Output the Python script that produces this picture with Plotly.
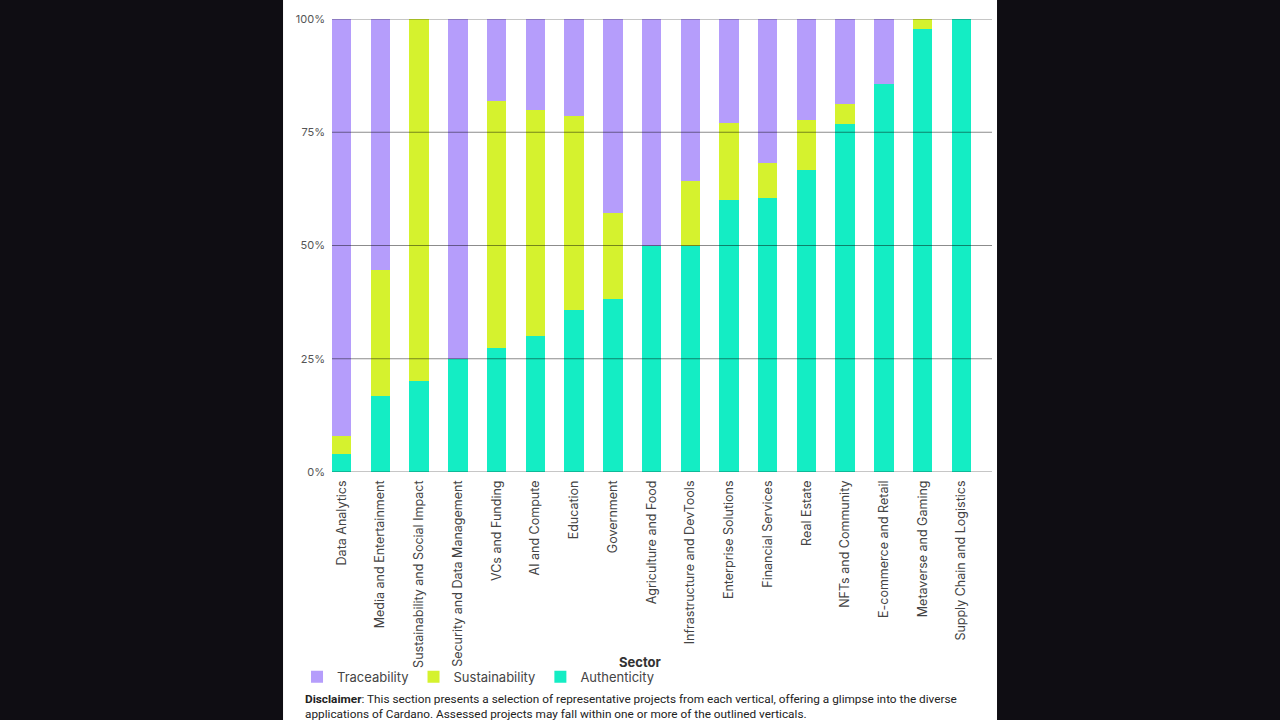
import plotly.graph_objects as go

sectors = [
    "Data Analytics", "Media and Entertainment", "Sustainability and Social Impact",
    "Security and Data Management", "VCs and Funding", "AI and Compute", "Education",
    "Government", "Agriculture and Food", "Infrastructure and DevTools",
    "Enterprise Solutions", "Financial Services", "Real Estate", "NFTs and Community",
    "E-commerce and Retail", "Metaverse and Gaming", "Supply Chain and Logistics",
]
authenticity = [4.0, 16.7, 20.0, 25.0, 27.3, 30.0, 35.7, 38.1, 50.0, 50.0, 60.0, 60.4, 66.7, 76.9, 85.7, 97.9, 100.0]
sustainability = [4.0, 27.8, 80.0, 0.0, 54.5, 50.0, 42.9, 19.0, 0.0, 14.3, 17.0, 7.9, 11.1, 4.4, 0.0, 2.1, 0.0]
traceability = [92.0, 55.5, 0.0, 75.0, 18.2, 20.0, 21.4, 42.9, 50.0, 35.7, 23.0, 31.7, 22.2, 18.7, 14.3, 0.0, 0.0]
tick_vals = [0, 25, 50, 75, 100]
tick_text = ["0%", "25%", "50%", "75%", "100%"]

C_AUTH = "#14EDC4"
C_SUST = "#D5F22E"
C_TRACE = "#B59DFB"
BG = "#0f0d13"

fig = go.Figure()
fig.add_trace(go.Bar(x=sectors, y=authenticity, name="Authenticity", marker_color=C_AUTH, marker_line_width=0))
fig.add_trace(go.Bar(x=sectors, y=sustainability, name="Sustainability", marker_color=C_SUST, marker_line_width=0))
fig.add_trace(go.Bar(x=sectors, y=traceability, name="Traceability", marker_color=C_TRACE, marker_line_width=0))

# white panel
fig.add_shape(type="rect", xref="paper", yref="paper", x0=-0.0742, x1=1.0076, y0=-0.6, y1=1.1,
              fillcolor="white", line_width=0, layer="below")

# gridlines drawn above bars
for v in tick_vals:
    fig.add_shape(type="line", xref="paper", yref="y", x0=0, x1=1, y0=v, y1=v,
                  line=dict(color="rgba(0,0,0,0.45)", width=1.2), layer="above")

fig.update_layout(
    width=1280, height=720,
    barmode="stack", bargap=0.497,
    paper_bgcolor=BG, plot_bgcolor="white",
    margin=dict(l=332, r=288, t=19, b=248),
    font=dict(family="Inter, Roboto, sans-serif", color="#444"),
    showlegend=True,
    legend=dict(orientation="h", traceorder="reversed", x=-0.053, xanchor="left",
                y=-0.419, yanchor="top", font=dict(size=13, color="#444"),
                bgcolor="rgba(0,0,0,0)", itemwidth=30),
    xaxis=dict(range=[-0.25, 16.79], tickangle=-90, showgrid=False, showline=False,
               tickfont=dict(size=12.5, color="#444"), ticks="", zeroline=False,
               ticklabelstandoff=5),
    yaxis=dict(range=[0, 100], tickvals=tick_vals, ticktext=tick_text, showgrid=False,
               zeroline=False, showline=False, tickfont=dict(size=11, color="#555"),
               ticklabelstandoff=6),
    annotations=[
        dict(text="<b>Sector</b>", xref="paper", yref="paper", x=0.468, y=-0.419,
             xanchor="center", yanchor="middle", showarrow=False,
             font=dict(size=13, color="#333")),
        dict(text="<b>Disclaimer</b>: This section presents a selection of representative projects from each vertical, offering a glimpse into the diverse<br>applications of Cardano. Assessed projects may fall within one or more of the outlined verticals.",
             xref="paper", yref="paper", x=-0.044, y=-0.482, xanchor="left", yanchor="top",
             align="left", showarrow=False, font=dict(family="Roboto, sans-serif", size=11.8, color="#222")),
    ],
)

fig.write_html("out.html", config={"displayModeBar": False},
               post_script="document.body.style.margin='0';document.body.style.overflow='hidden';")
